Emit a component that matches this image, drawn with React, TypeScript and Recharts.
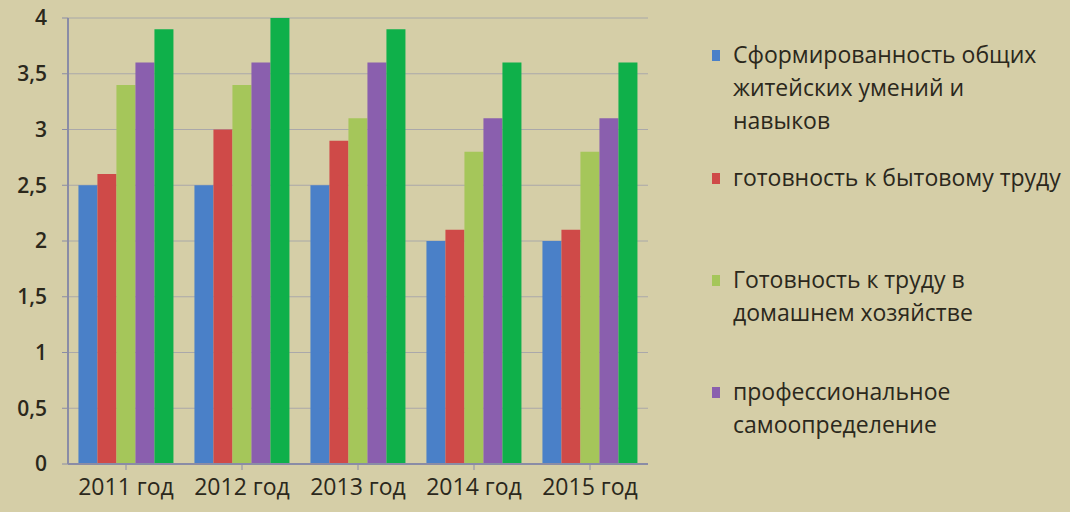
import { BarChart, Bar, XAxis, YAxis, CartesianGrid, Legend } from "recharts";

// --- chart data ---
const years = ["2011 год", "2012 год", "2013 год", "2014 год", "2015 год"];
const lifeSkills = [2.5, 2.5, 2.5, 2.0, 2.0];
const householdWork = [2.6, 3.0, 2.9, 2.1, 2.1];
const homeWork = [3.4, 3.4, 3.1, 2.8, 2.8];
const selfDetermination = [3.6, 3.6, 3.6, 3.1, 3.1];
const fifthSeries = [3.9, 4.0, 3.9, 3.6, 3.6];
const yTicks = [0, 0.5, 1, 1.5, 2, 2.5, 3, 3.5, 4];

const SERIES = [
  { key: "s1", name: "Сформированность общих житейских умений и навыков", color: "#4a80c8", values: lifeSkills, inLegend: true },
  { key: "s2", name: "готовность к бытовому труду", color: "#cf4a48", values: householdWork, inLegend: true },
  { key: "s3", name: "Готовность к труду в домашнем хозяйстве", color: "#a5c65a", values: homeWork, inLegend: true },
  { key: "s4", name: "профессиональное самоопределение", color: "#8a5fae", values: selfDetermination, inLegend: true },
  { key: "s5", name: "Ряд 5", color: "#0fb04a", values: fifthSeries, inLegend: false },
];

// legend labels wrapped the way the slide wraps them
const legendLines = [
  ["Сформированность общих", "житейских умений и", "навыков"],
  ["готовность к бытовому труду"],
  ["Готовность к труду в", "домашнем хозяйстве"],
  ["профессиональное", "самоопределение"],
];

const data = years.map((year, i) => {
  const row: Record<string, any> = { year };
  SERIES.forEach((s) => { row[s.key] = s.values[i]; });
  return row;
});

const FONT = "'Open Sans', 'Noto Sans', sans-serif";
const TEXT = "#2b281c";

// legend: items placed with the gaps seen in the original slide
const legendGaps = [20, 24, 69, 46];

function SlideLegend() {
  return (
    <div style={{ fontFamily: FONT, fontSize: 23, color: TEXT, lineHeight: "33px", marginLeft: 64 }}>
      {SERIES.filter((s) => s.inLegend).map((s, i) => (
        <div key={s.key} style={{ display: "flex", marginTop: legendGaps[i], width: 356 }}>
          <span style={{ width: 8, height: 11, background: s.color, marginTop: 12, marginRight: 13, flexShrink: 0 }} />
          <span style={{ whiteSpace: "nowrap" }}>
            {legendLines[i].map((line, j) => (
              <div key={j}>{line}</div>
            ))}
          </span>
        </div>
      ))}
    </div>
  );
}

export default function App() {
  return (
    <div style={{ position: "fixed", left: 0, top: 0, width: 1070, height: 512, background: "#d5cea7", overflow: "hidden" }}>
      <BarChart
        width={1070}
        height={512}
        data={data}
        margin={{ top: 18, right: 70, left: 8, bottom: 4 }}
        barCategoryGap="9%"
        barGap={0}
      >
        <CartesianGrid vertical={false} stroke="#8d90ab" strokeOpacity={0.6} />
        <XAxis
          dataKey="year"
          height={44}
          tick={{ fontFamily: FONT, fontSize: 23, fill: TEXT }}
          tickLine={{ stroke: "#8a8ca6" }}
          axisLine={{ stroke: "#8a8ca6", strokeWidth: 2 }}
          tickMargin={9}
          interval={0}
        />
        <YAxis
          domain={[0, 4]}
          ticks={yTicks}
          width={60}
          tickFormatter={(v: number) => String(v).replace(".", ",")}
          tick={{ fontFamily: FONT, fontSize: 21, fontWeight: 600, fill: TEXT }}
          tickLine={{ stroke: "#8a8ca6" }}
          axisLine={{ stroke: "#8a8ca6", strokeWidth: 2 }}
          tickMargin={15}
        />
        <Legend
          layout="vertical"
          align="right"
          verticalAlign="top"
          content={() => <SlideLegend />}
          wrapperStyle={{ width: 352 }}
        />
        {SERIES.map((s) => (
          <Bar key={s.key} dataKey={s.key} name={s.name} fill={s.color} isAnimationActive={false} />
        ))}
      </BarChart>
    </div>
  );
}
